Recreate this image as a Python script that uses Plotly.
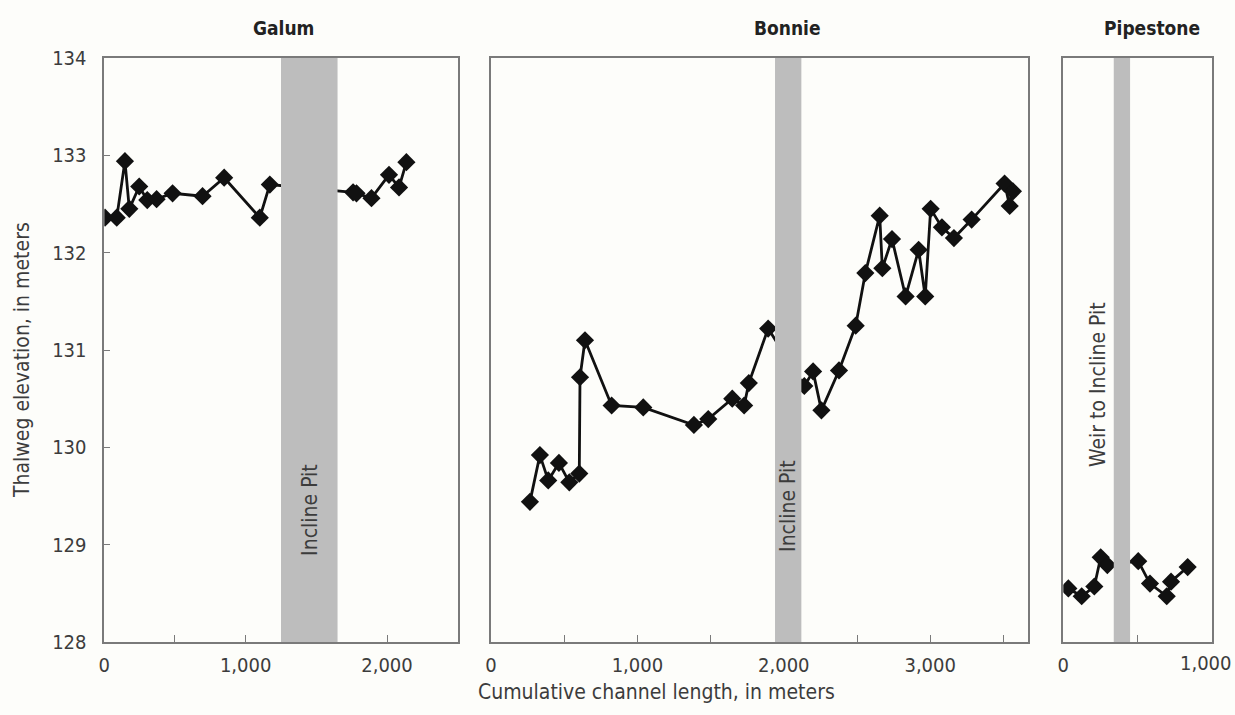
import plotly.graph_objects as go

# Thalweg survey points: cumulative channel length (m) and elevation (m)
galum_len = [5, 88, 146, 177, 247, 304, 370, 483, 695, 848, 1100, 1171,
             1760, 1784, 1890, 2014, 2085, 2137]
galum_elev = [132.36, 132.36, 132.94, 132.45, 132.68, 132.54, 132.55, 132.61,
              132.58, 132.77, 132.36, 132.70, 132.62, 132.61, 132.56, 132.80,
              132.67, 132.93]

bonnie_len = [266, 334, 391, 464, 535, 603, 608, 642, 824, 1040, 1386, 1484,
              1648, 1729, 1761, 1893, 2140, 2200, 2257, 2377, 2491, 2557,
              2655, 2673, 2739, 2832, 2921, 2966, 3003, 3080, 3162, 3283,
              3508, 3543, 3565]
bonnie_elev = [129.44, 129.92, 129.66, 129.84, 129.64, 129.73, 130.72, 131.10,
               130.43, 130.41, 130.23, 130.29, 130.50, 130.43, 130.66, 131.22,
               130.63, 130.78, 130.38, 130.79, 131.25, 131.79, 132.38, 131.84,
               132.14, 131.55, 132.03, 131.55, 132.45, 132.26, 132.15, 132.34,
               132.71, 132.48, 132.63]

pipestone_len = [34, 124, 209, 252, 297, 505, 584, 697, 726, 838]
pipestone_elev = [128.55, 128.47, 128.57, 128.87, 128.79, 128.83, 128.60,
                  128.47, 128.62, 128.77]

# Reach titles, axis extents and pit extents (m)
panel_titles = ["Galum", "Bonnie", "Pipestone"]
panel_x_max = [2500, 3670, 1000]
pit_extent = [(1250, 1650), (1940, 2120), (340, 450)]
pit_labels = ["Incline Pit", "Incline Pit", "Weir to Incline Pit"]
elev_ticks = [128, 129, 130, 131, 132, 133, 134]

W, H = 1235, 715
M_T, M_B = 58, 73
plot_h = H - M_T - M_B
# Panel pixel extents (left, right)
panel_px = [(104.3, 457.7), (491.0, 1028.3), (1063.3, 1211.7)]
title_px = [283, 787, 1152]
label_pos = [(1450, 129.36), (2030, 129.40), (234, 130.64)]

FONT = "Liberation Sans Narrow, DejaVu Sans Condensed, Arial Narrow, sans-serif"
AXIS_GRAY = "#7a7a7a"
TEXT_GRAY = "#3c3c3c"
BG = "#fdfdfa"

fig = go.Figure()
series = [(galum_len, galum_elev), (bonnie_len, bonnie_elev),
          (pipestone_len, pipestone_elev)]

for i, (xs, ys) in enumerate(series):
    suffix = "" if i == 0 else str(i + 1)
    fig.add_trace(go.Scatter(
        x=xs, y=ys, mode="lines+markers",
        xaxis="x" + suffix, yaxis="y" + suffix,
        line=dict(color="#111111", width=2.8),
        marker=dict(symbol="diamond", size=14, color="#111111"),
        showlegend=False, hoverinfo="skip",
    ))

layout = dict(
    width=W, height=H,
    margin=dict(l=0, r=0, t=M_T, b=M_B, pad=0, autoexpand=False),
    paper_bgcolor=BG, plot_bgcolor=BG,
    font=dict(family=FONT, size=20, color=TEXT_GRAY),
    shapes=[], annotations=[],
)

for i in range(3):
    suffix = "" if i == 0 else str(i + 1)
    x0, x1 = panel_px[i]
    xmax = panel_x_max[i]
    # Labelled ticks every 1,000 m; the label at the far right edge of the
    # last panel is placed separately so it stays inside the page
    major = list(range(0, xmax + 1, 1000))
    labels = [f"{v:,}" for v in major]
    if i == 2:
        labels[-1] = ""
    layout["xaxis" + suffix] = dict(
        domain=[x0 / W, x1 / W], range=[0, xmax],
        anchor="y" + suffix, automargin=False,
        showgrid=False, zeroline=False,
        showline=True, linecolor=AXIS_GRAY, linewidth=1.6, mirror=True,
        ticks="inside", ticklen=7, tickcolor=AXIS_GRAY, tickwidth=1.4,
        tickvals=major, ticktext=labels,
        minor=dict(dtick=500, tick0=0, ticks="inside", ticklen=7,
                   tickcolor=AXIS_GRAY, tickwidth=1.4, showgrid=False),
        tickfont=dict(family=FONT, size=20, color=TEXT_GRAY),
        ticklabelstandoff=4,
    )
    layout["yaxis" + suffix] = dict(
        domain=[0, 1], range=[128, 134], anchor="x" + suffix,
        automargin=False,
        showgrid=False, zeroline=False,
        showline=True, linecolor=AXIS_GRAY, linewidth=1.6, mirror=True,
        tickvals=elev_ticks if i == 0 else [],
        ticks="inside" if i == 0 else "", ticklen=6,
        tickcolor=AXIS_GRAY, tickwidth=1.4,
        showticklabels=(i == 0),
        tickfont=dict(family=FONT, size=20, color=TEXT_GRAY),
        ticklabelstandoff=12,
    )
    # Gravel pit band drawn over the profile
    p0, p1 = pit_extent[i]
    layout["shapes"].append(dict(
        type="rect", xref="x" + suffix, yref="y" + suffix,
        x0=p0, x1=p1, y0=128, y1=134,
        fillcolor="#bdbdbd", line=dict(width=0), layer="above",
    ))
    lx, ly = label_pos[i]
    layout["annotations"].append(dict(
        text=pit_labels[i], xref="x" + suffix, yref="y" + suffix,
        x=lx, y=ly, showarrow=False, textangle=-90,
        font=dict(family=FONT, size=21, color=TEXT_GRAY),
    ))
    layout["annotations"].append(dict(
        text="<b>" + panel_titles[i] + "</b>", xref="paper", yref="paper",
        x=title_px[i] / W, y=(H - M_B - 28) / plot_h,
        xanchor="center", yanchor="middle", showarrow=False,
        font=dict(family=FONT, size=19, color="#222222"),
    ))

# Right-edge tick label of the Pipestone axis
layout["annotations"].append(dict(
    text=f"{panel_x_max[2]:,}", xref="x3", yref="paper",
    x=panel_x_max[2], y=(H - M_B - 663) / plot_h,
    xanchor="right", yanchor="middle", xshift=22, showarrow=False,
    font=dict(family=FONT, size=20, color=TEXT_GRAY),
))
layout["annotations"].append(dict(
    text="Cumulative channel length, in meters", xref="paper", yref="paper",
    x=656 / W, y=(H - M_B - 692) / plot_h, xanchor="center", yanchor="middle",
    showarrow=False, font=dict(family=FONT, size=21, color=TEXT_GRAY),
))
layout["annotations"].append(dict(
    text="Thalweg elevation, in meters", xref="paper", yref="paper",
    x=22 / W, y=(H - M_B - 360) / plot_h, xanchor="center", yanchor="middle",
    textangle=-90, showarrow=False,
    font=dict(family=FONT, size=21, color=TEXT_GRAY),
))

fig.update_layout(**layout)
fig.write_html("out.html")
